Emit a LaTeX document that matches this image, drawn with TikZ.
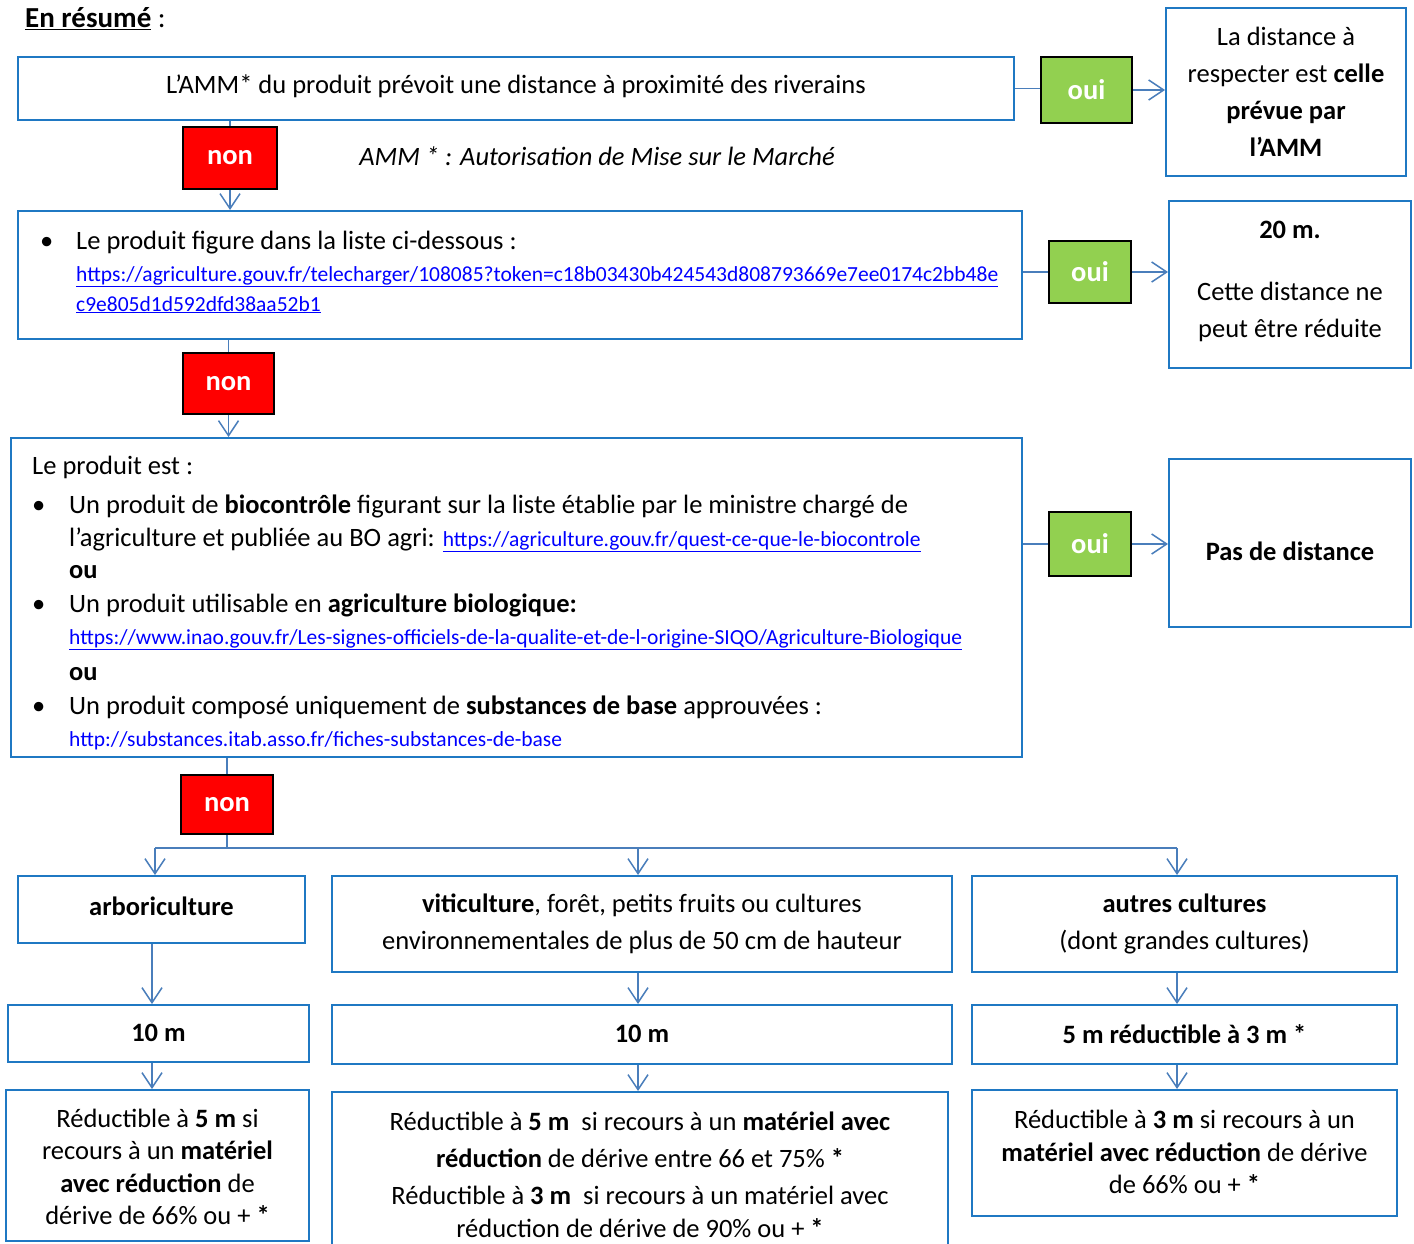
\documentclass[tikz,border=0pt]{standalone}
\usepackage{fontspec}
\setmainfont{Carlito}
\usetikzlibrary{arrows.meta}
\definecolor{boxblue}{RGB}{31,120,195}
\definecolor{arrblue}{RGB}{74,126,187}
\definecolor{ouigreen}{RGB}{146,208,80}
\definecolor{nonred}{RGB}{255,0,0}
\definecolor{linkblue}{RGB}{0,0,255}
\newcommand{\lnk}[1]{\textcolor{linkblue}{\underline{#1}}}
\begin{document}
\begin{tikzpicture}[x=1pt,y=-1pt,
  box/.style={draw=boxblue, line width=2pt, inner sep=0pt, fill=white},
  txt/.style={font=\fontsize{26.5}{37}\selectfont, inner sep=0pt, align=center},
  ln/.style={font=\fontsize{26.5}{37}\selectfont, inner sep=0pt, anchor=base west},
  url/.style={font=\fontsize{21.5}{30}\selectfont, inner sep=0pt, anchor=base west, text=linkblue},
  oui/.style={draw=black, line width=2pt, fill=ouigreen, text=white, font=\fontsize{28.5}{30}\selectfont\bfseries, inner sep=0pt},
  non/.style={draw=black, line width=2pt, fill=nonred, text=white, font=\fontsize{28.5}{30}\selectfont\bfseries, inner sep=0pt},
  conn/.style={draw=arrblue, line width=1.5pt},
  arr/.style={draw=arrblue, line width=1.5pt, -{Straight Barb[length=15pt,width=20pt,line width=1.5pt]}},
]
\useasboundingbox (0,0) rectangle (1414,1244);

% title
\node[ln, font=\fontsize{29}{32}\selectfont] (title) at (25,28) {\underline{\textbf{En résumé}} :};

% level 1
\node[box, minimum width=996pt, minimum height=63pt] (b1) at (516,88.5) {};
\node[txt] (t1) at (516,86) {L’AMM* du produit prévoit une distance à proximité des riverains};
\node[oui, minimum width=91pt, minimum height=66pt] (oui1) at (1086.5,90) {oui};
\node[box, minimum width=240pt, minimum height=168pt] (r1) at (1286,92) {};
\node[txt] (tr1) at (1286,92) {La distance à\\respecter est \textbf{celle}\\\textbf{prévue par}\\\textbf{l’AMM}};
\node[non, minimum width=94pt, minimum height=62pt] (non1) at (230,158) {non};
\node[txt, font=\fontsize{26.5}{37}\selectfont\itshape] (note) at (597,156) {AMM * : Autorisation de Mise sur le Marché};

% level 2
\node[box, minimum width=1004pt, minimum height=128pt] (b2) at (520,275) {};
\node[ln] (bul2) at (40,249) {•};
\node[ln] (t2) at (76,249) {Le produit figure dans la liste ci-dessous :};
\node[url] (u2a) at (76,281) {\underline{https://agriculture.gouv.fr/telecharger/108085?token=c18b03430b424543d808793669e7ee0174c2bb48e}};
\node[url] (u2b) at (76,311) {\underline{c9e805d1d592dfd38aa52b1}};
\node[oui, minimum width=82pt, minimum height=62pt] (oui2) at (1090,272) {oui};
\node[box, minimum width=242pt, minimum height=167pt] (r2) at (1290,284.5) {};
\node[txt] (tr2) at (1290,281) {\textbf{20 m.}\\[25pt]Cette distance ne\\peut être réduite};
\node[non, minimum width=91pt, minimum height=61pt] (non2) at (228.5,383.5) {non};

% level 3
\node[box, minimum width=1011pt, minimum height=319pt] (b3) at (516.5,597.5) {};
\node[ln] (t3a) at (32,474) {Le produit est :};
\node[ln] (bul3a) at (32,513) {•};
\node[ln] (t3b) at (69,513) {Un produit de \textbf{biocontrôle} figurant sur la liste établie par le ministre chargé de};
\node[ln] (t3c) at (69,546) {l’agriculture et publiée au BO agri: \fontsize{21.5}{30}\selectfont\lnk{https://agriculture.gouv.fr/quest-ce-que-le-biocontrole}};
\node[ln] (t3d) at (69,578) {\textbf{ou}};
\node[ln] (bul3b) at (32,612) {•};
\node[ln] (t3e) at (69,612) {Un produit utilisable en \textbf{agriculture biologique:}};
\node[url] (u3e) at (69,644) {\underline{https://www.inao.gouv.fr/Les-signes-officiels-de-la-qualite-et-de-l-origine-SIQO/Agriculture-Biologique}};
\node[ln] (t3f) at (69,680) {\textbf{ou}};
\node[ln] (bul3c) at (32,714) {•};
\node[ln] (t3g) at (69,714) {Un produit composé uniquement de \textbf{substances de base} approuvées :};
\node[url] (u3g) at (69,746) {http://substances.itab.asso.fr/fiches-substances-de-base};
\node[oui, minimum width=82pt, minimum height=64pt] (oui3) at (1090,544) {oui};
\node[box, minimum width=242pt, minimum height=168pt] (r3) at (1290,543) {};
\node[txt] (tr3) at (1290,551) {\textbf{Pas de distance}};
\node[non, minimum width=92pt, minimum height=59pt] (non3) at (227,804.5) {non};

% branch level
\node[box, minimum width=287pt, minimum height=67pt] (a1) at (161.5,909.5) {};
\node[txt] (ta1) at (161.5,906) {\textbf{arboriculture}};
\node[box, minimum width=620pt, minimum height=96pt] (bb1) at (642,924) {};
\node[txt] (tb1) at (642,924) {\textbf{viticulture}, forêt, petits fruits ou cultures\\environnementales de plus de 50 cm de hauteur};
\node[box, minimum width=425pt, minimum height=96pt] (c1) at (1184.5,924) {};
\node[txt] (tc1) at (1184.5,924) {\textbf{autres cultures}\\(dont grandes cultures)};

\node[box, minimum width=301pt, minimum height=57pt] (a2) at (158.5,1033.5) {};
\node[txt] (ta2) at (158.5,1033) {\textbf{10 m}};
\node[box, minimum width=620pt, minimum height=59pt] (bb2) at (642,1034.5) {};
\node[txt] (tb2) at (642,1034) {\textbf{10 m}};
\node[box, minimum width=425pt, minimum height=59pt] (c2) at (1184.5,1034.5) {};
\node[txt] (tc2) at (1184.5,1034) {\textbf{5 m réductible à 3 m *}};

\node[box, minimum width=303pt, minimum height=151pt] (a3) at (157.5,1165.5) {};
\node[txt, font=\fontsize{26.5}{32.3}\selectfont] (ta3) at (157.5,1167) {Réductible à \textbf{5 m} si\\recours à un \textbf{matériel}\\\textbf{avec réduction} de\\dérive de 66\% ou + \textbf{*}};
\node[box, minimum width=616pt, minimum height=168pt] (bb3) at (640,1176) {};
\node[txt] (tb3) at (640,1175) {Réductible à \textbf{5 m}\ \ si recours à un \textbf{matériel avec}\\\textbf{réduction} de dérive entre 66 et 75\% \textbf{*}\\Réductible à \textbf{3 m}\ \ si recours à un matériel avec\\[-4pt]réduction de dérive de 90\% ou + \textbf{*}};
\node[box, minimum width=425pt, minimum height=126pt] (c3) at (1184.5,1153) {};
\node[txt, font=\fontsize{26.5}{32.5}\selectfont] (tc3) at (1184.5,1152) {Réductible à \textbf{3 m} si recours à un\\\textbf{matériel avec réduction} de dérive\\de 66\% ou + \textbf{*}};

% connectors
\draw[conn] (b1.east) -- (b1.east -| oui1.west);
\draw[arr] (oui1.east) -- (oui1.east -| r1.west);
\draw[conn] (non1.north |- b1.south) -- (non1.north);
\draw[arr] (non1.south) -- (non1.south |- b2.north);
\draw[conn] (b2.east |- oui2.west) -- (oui2.west);
\draw[arr] (oui2.east) -- (oui2.east -| r2.west);
\draw[conn] (non2.north |- b2.south) -- (non2.north);
\draw[arr] (non2.south) -- (non2.south |- b3.north);
\draw[conn] (b3.east |- oui3.west) -- (oui3.west);
\draw[arr] (oui3.east) -- (oui3.east -| r3.west);
\draw[conn] (non3.north |- b3.south) -- (non3.north);
\coordinate (sa) at (155,848);
\coordinate (sb) at (638,848);
\coordinate (sc) at (1177,848);
\coordinate (sm) at (227,848);
\draw[conn] (non3.south) -- (sm);
\draw[conn] (sa) -- (sc);
\draw[arr] (sa) -- (sa |- a1.north);
\draw[arr] (sb) -- (sb |- bb1.north);
\draw[arr] (sc) -- (sc |- c1.north);
\coordinate (xa) at (152,0);
\draw[arr] (xa |- a1.south) -- (xa |- a2.north);
\draw[arr] (sb |- bb1.south) -- (sb |- bb2.north);
\draw[arr] (sc |- c1.south) -- (sc |- c2.north);
\draw[arr] (xa |- a2.south) -- (xa |- a3.north);
\draw[arr] (sb |- bb2.south) -- (sb |- bb3.north);
\draw[arr] (sc |- c2.south) -- (sc |- c3.north);
\end{tikzpicture}
\end{document}
